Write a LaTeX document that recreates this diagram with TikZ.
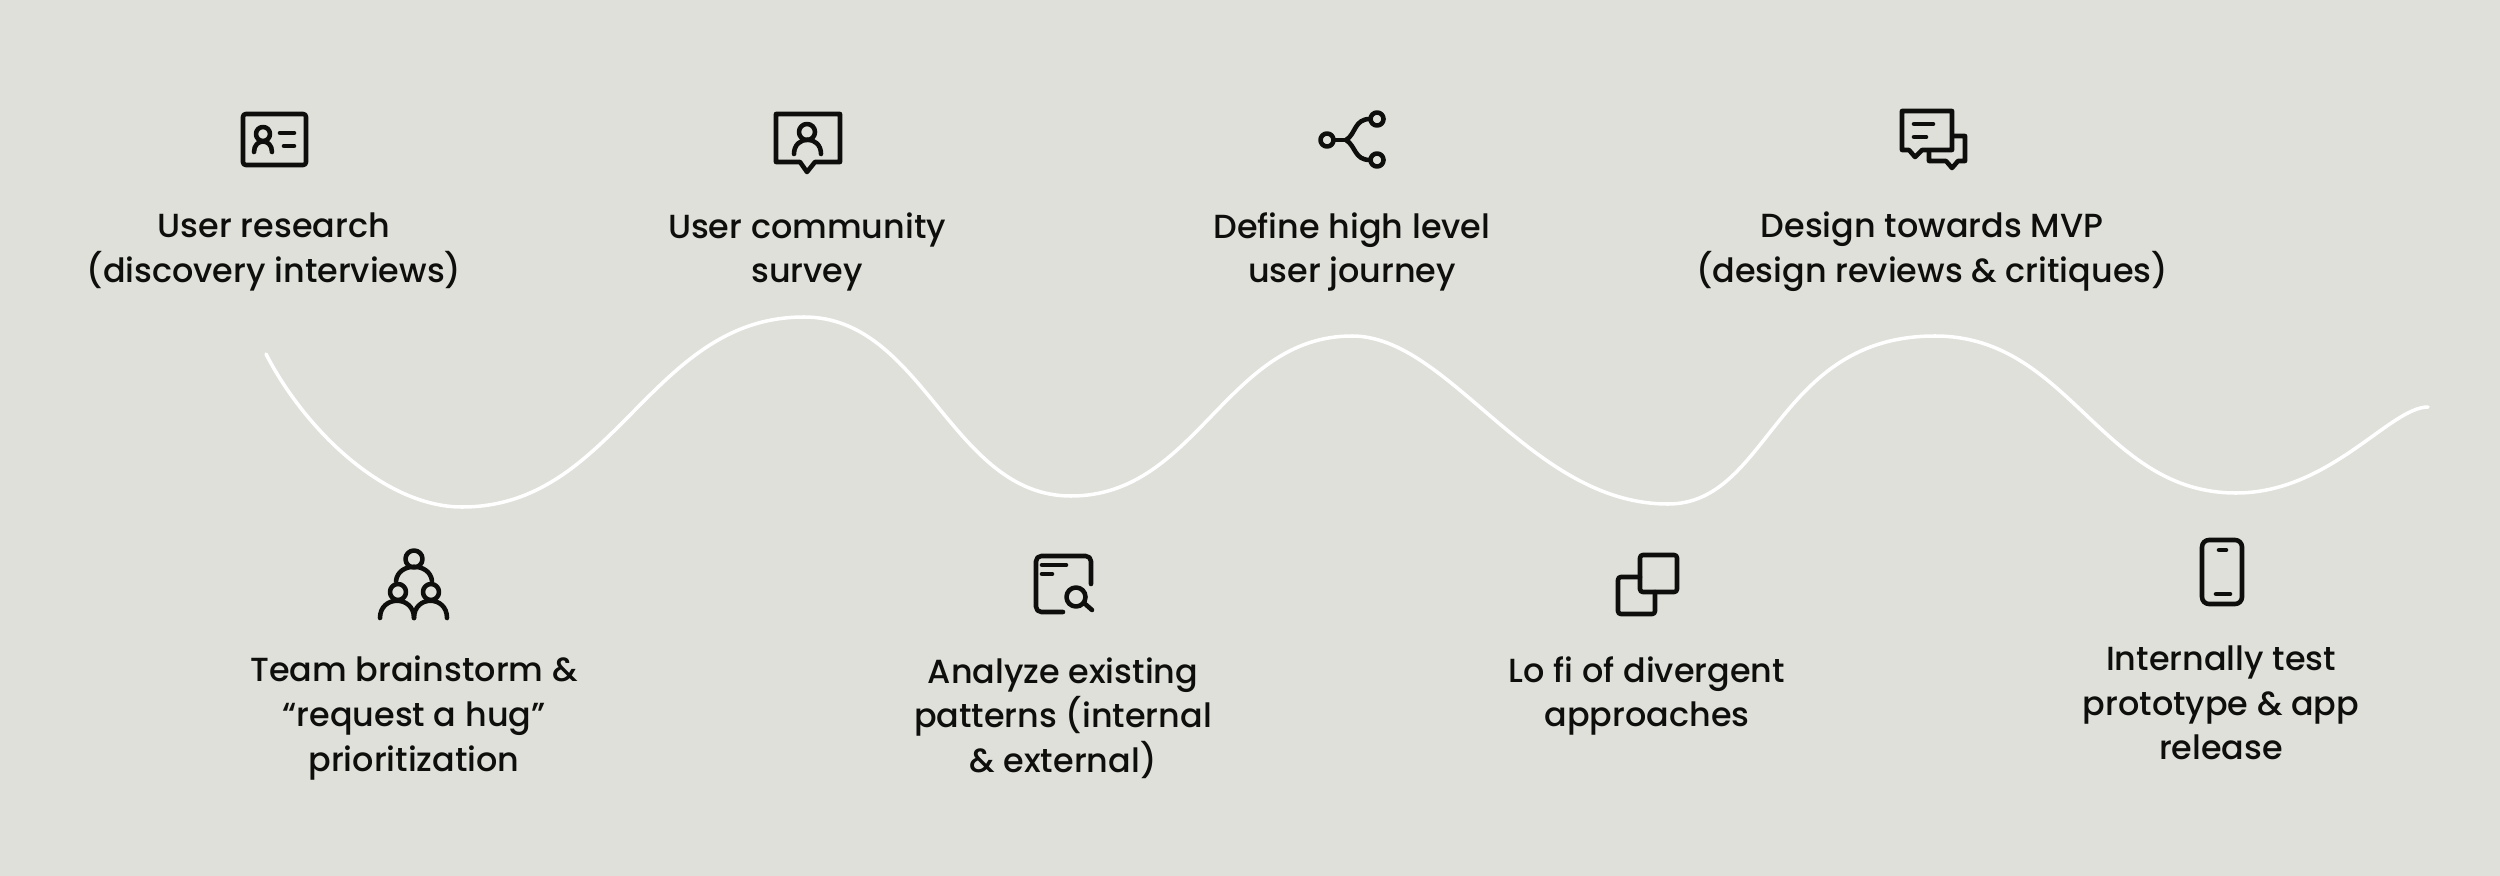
\documentclass[tikz,border=0pt]{standalone}
\usepackage{fontspec}
\setmainfont{Poppins}[UprightFont=* Medium]
\definecolor{paper}{HTML}{DFE0DA}
\definecolor{ink}{HTML}{0E0E0C}
\tikzset{
  icon/.style={draw=ink,line width=1.3pt,line cap=round,line join=round},
  caption/.style={align=center,text=ink,font=\fontsize{9.5}{12.7}\selectfont,inner sep=0pt},
}
\begin{document}
\begin{tikzpicture}[x=0.01cm,y=-0.01cm]
  \fill[paper] (0,0) rectangle (2500,876);
  % wave
  \draw[white,line width=1pt,line cap=round] (266,354)
    .. controls (305,430) and (385,507) .. (462,507)
    .. controls (616,507) and (650,317) .. (804,317)
    .. controls (924,317) and (951,496) .. (1071,496)
    .. controls (1197,496) and (1226,336) .. (1352,336)
    .. controls (1450,336) and (1530,504) .. (1668,504)
    .. controls (1770,504) and (1775,336) .. (1935,336)
    .. controls (2070,336) and (2101,493) .. (2236,493)
    .. controls (2330,493) and (2390,407) .. (2428,407);
  % captions, top row
  \node[caption] (research) at (274,252) {User research\\(discovery interviews)};
  \node[caption] (community) at (807,252) {User community\\survey};
  \node[caption] (journey) at (1352,252) {Define high level\\user journey};
  \node[caption] (mvp) at (1932,252) {Design towards MVP\\(design reviews \& critiques)};
  % captions, bottom row
  \node[caption] (brainstorm) at (414,718) {Team brainstorm \&\\“request a hug”\\prioritization};
  \node[caption] (patterns) at (1063,718) {Analyze existing\\patterns (internal\\\& external)};
  \node[caption] (lofi) at (1647,696) {Lo fi of divergent\\approaches};
  \node[caption] (prototype) at (2221,703) {Internally test\\prototype \& app\\release};
  % id card
  \draw[icon,rounded corners=0.8pt] (243,114) rectangle (306,165);
  \draw[icon] (263,134) circle (7);
  \draw[icon] (254,152) .. controls (254,138) and (272,138) .. (272,152);
  \draw[icon] (280,133) -- (294,133) (284,146) -- (294,146);
  % speech box with person
  \draw[icon] (776,114) -- (840,114) -- (840,162) -- (815,162) -- (807,172) -- (800,162) -- (776,162) -- cycle;
  \draw[icon] (807,132) circle (8);
  \draw[icon] (794,154) .. controls (794,135) and (821,135) .. (821,154);
  % branch
  \draw[icon] (1327,140) circle (6.5);
  \draw[icon] (1377,119) circle (6.5);
  \draw[icon] (1377,160) circle (6.5);
  \draw[icon] (1334,140) -- (1346,140);
  \draw[icon] (1346,140) .. controls (1356,134) and (1354,119) .. (1370,119);
  \draw[icon] (1346,140) .. controls (1356,146) and (1354,160) .. (1370,160);
  % two bubbles
  \draw[icon] (1902,111) -- (1952,111) -- (1952,150) -- (1922,150) -- (1915,157) -- (1909,150) -- (1902,150) -- cycle;
  \draw[icon] (1914,124) -- (1933,124) (1914,137) -- (1926,137);
  \draw[icon] (1953,136) -- (1965,136) -- (1965,161) -- (1958,161) -- (1952,168) -- (1946,161) -- (1929,161) -- (1929,151);
  % three people
  \draw[icon] (414,559) circle (8.5);
  \draw[icon] (398,592) circle (8);
  \draw[icon] (431,592) circle (8);
  \draw[icon] (396,581) .. controls (398,562) and (430,562) .. (432,581);
  \draw[icon] (380,618) .. controls (380,595) and (414,595) .. (414,618);
  \draw[icon] (414,618) .. controls (414,595) and (447,595) .. (447,618);
  % page with lens
  \draw[icon,rounded corners=1.5pt] (1091,584) -- (1091,556) -- (1036,556) -- (1036,612) -- (1063,612);
  \draw[icon] (1042,565) -- (1066,565) (1042,574) -- (1052,574);
  \draw[icon] (1076,597) circle (9.5);
  \draw[icon] (1084,603) -- (1092,610);
  % overlapping squares
  \draw[icon,rounded corners=0.8pt] (1640,555) rectangle (1677,592);
  \draw[icon,rounded corners=0.8pt] (1640,577) -- (1618,577) -- (1618,614) -- (1655,614) -- (1655,592);
  % phone
  \draw[icon,rounded corners=2pt] (2202,540) rectangle (2242,604);
  \draw[icon] (2219,550) -- (2226,550) (2216,594) -- (2230,594);
\end{tikzpicture}
\end{document}
